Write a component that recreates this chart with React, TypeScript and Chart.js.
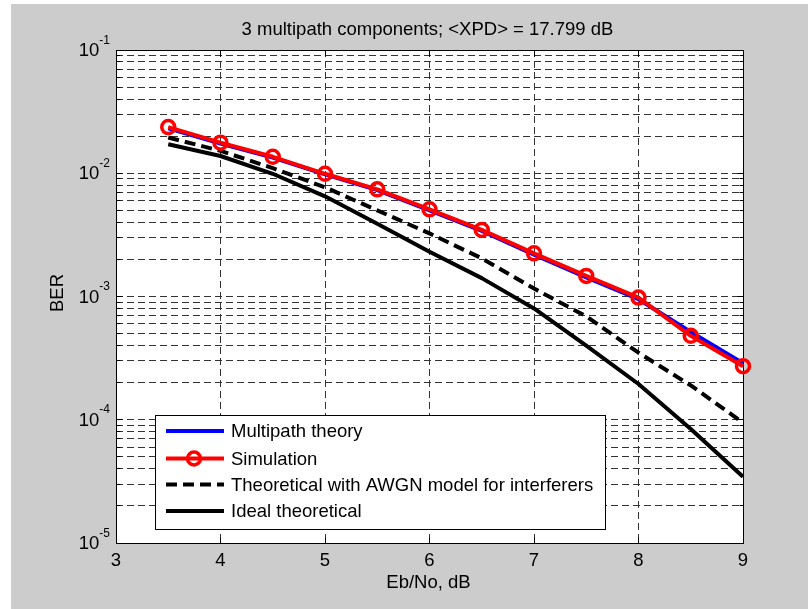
import { useEffect, useRef } from 'react';
import { Chart, registerables } from 'chart.js';

Chart.register(...registerables);

// Eb/No sample points, dB
const ebNo = [3.5, 4, 4.5, 5, 5.5, 6, 6.5, 7, 7.5, 8, 8.5, 9];

// Bit error rates for each curve
const multipathTheory = [0.0231, 0.0174, 0.0134, 0.0098, 0.0073, 0.00500, 0.00340, 0.00218, 0.00143, 0.00095, 0.000515, 0.000288];
const simulation = [0.0237, 0.0177, 0.0136, 0.0099, 0.0074, 0.00510, 0.00347, 0.00224, 0.00147, 0.00098, 0.00048, 0.000272];
const awgnTheory = [0.0195, 0.0152, 0.0110, 0.0077, 0.0050, 0.00325, 0.00204, 0.00116, 0.00069, 0.000350, 0.000190, 0.0000946];
const idealTheory = [0.0172, 0.0138, 0.0099, 0.0065, 0.0039, 0.00231, 0.00141, 0.00080, 0.00040, 0.000195, 0.0000841, 0.0000345];

// Axis ticks
const xTicks = [3, 4, 5, 6, 7, 8, 9];
const yDecades = [-5, -4, -3, -2, -1];

// Texts
const titleText = '3 multipath components; <XPD> = 17.799 dB';
const xLabel = 'Eb/No, dB';
const yLabel = 'BER';
const legendLabels = [
  'Multipath theory',
  'Simulation',
  'Theoretical with AWGN model for interferers',
  'Ideal theoretical',
];

const FONT = '"Liberation Sans", Arial, Helvetica, sans-serif';
const GRID = '#333333';
const DASH = [11, 6];

// Log grid lines at 1..9 x 10^k
const yGrid: number[] = [];
for (let i = 0; i < yDecades.length - 1; i++) {
  for (let m = 1; m <= 9; m++) {
    yGrid.push(Number((m * Math.pow(10, yDecades[i])).toPrecision(3)));
  }
}
yGrid.push(Math.pow(10, yDecades[yDecades.length - 1]));

const toPoints = (vals: number[]) => ebNo.map((x, i) => ({ x, y: vals[i] }));

const frame = {
  id: 'matlabFrame',
  beforeDraw(chart: any) {
    const { ctx, width, height, chartArea: a } = chart;
    ctx.save();
    ctx.fillStyle = '#ffffff';
    ctx.fillRect(0, 0, width, height);
    ctx.fillStyle = '#cccccc';
    ctx.fillRect(11, 4, width - 11, height - 4);
    ctx.fillStyle = '#ffffff';
    ctx.fillRect(a.left, a.top, a.right - a.left, a.bottom - a.top);
    ctx.restore();
  },
  beforeDatasetsDraw(chart: any) {
    const { ctx, chartArea: a, scales } = chart;
    const L = Math.floor(a.left) + 0.5;
    const R = Math.floor(a.right) + 0.5;
    const T = Math.floor(a.top) + 0.5;
    const B = Math.floor(a.bottom) + 0.5;
    ctx.save();
    ctx.strokeStyle = '#000';
    ctx.lineWidth = 1;
    ctx.setLineDash([]);
    ctx.beginPath();
    // inner tick marks on x
    xTicks.forEach((v) => {
      const x = Math.floor(scales.x.getPixelForValue(v)) + 0.5;
      ctx.moveTo(x, B); ctx.lineTo(x, B - 6);
      ctx.moveTo(x, T); ctx.lineTo(x, T + 6);
    });
    // inner tick marks on y
    yGrid.forEach((v) => {
      const y = Math.floor(scales.y.getPixelForValue(v)) + 0.5;
      const major = Math.abs(Math.log10(v) - Math.round(Math.log10(v))) < 1e-6;
      const len = major ? 6 : 4;
      ctx.moveTo(L, y); ctx.lineTo(L + len, y);
      ctx.moveTo(R, y); ctx.lineTo(R - len, y);
    });
    ctx.stroke();
    ctx.strokeRect(L, T, R - L, B - T);
    ctx.restore();
  },
  afterDraw(chart: any) {
    const { ctx, chartArea: a, scales } = chart;
    ctx.save();
    ctx.fillStyle = '#000';

    // title
    ctx.font = `18.5px ${FONT}`;
    ctx.textAlign = 'center';
    ctx.textBaseline = 'alphabetic';
    ctx.fillText(titleText, (a.left + a.right) / 2 - 2, a.top - 15.5);

    // x tick labels
    xTicks.forEach((v) => {
      ctx.fillText(String(v), scales.x.getPixelForValue(v), a.bottom + 23);
    });

    // x label
    ctx.fillText(xLabel, (a.left + a.right) / 2 - 1, a.bottom + 45);

    // y tick labels, 10^k with superscript exponent
    yDecades.forEach((e) => {
      const y = scales.y.getPixelForValue(Math.pow(10, e));
      const exp = String(e);
      ctx.font = `12px ${FONT}`;
      ctx.textAlign = 'right';
      const ew = ctx.measureText(exp).width;
      ctx.fillText(exp, a.left - 6, y - 6.5);
      ctx.font = `18.5px ${FONT}`;
      ctx.fillText('10', a.left - 6 - ew, y + 6);
    });

    // y label
    ctx.save();
    ctx.translate(a.left - 53.5, (a.top + a.bottom) / 2 - 3.5);
    ctx.rotate(-Math.PI / 2);
    ctx.textAlign = 'center';
    ctx.font = `18.5px ${FONT}`;
    ctx.fillText(yLabel, 0, 0);
    ctx.restore();

    // legend
    const lx = a.left + 39;
    const ly = a.bottom - 128;
    const lw = 450;
    const lh = 114;
    ctx.fillStyle = '#ffffff';
    ctx.fillRect(lx, ly, lw, lh);
    ctx.strokeStyle = '#000';
    ctx.lineWidth = 1;
    ctx.strokeRect(Math.floor(lx) + 0.5, Math.floor(ly) + 0.5, lw, lh);

    const ds = chart.data.datasets;
    const rows = [16, 43.5, 69.5, 96];
    legendLabels.forEach((label, i) => {
      const d = ds.find((s: any) => s.label === label);
      const y = ly + rows[i];
      const x0 = lx + 11;
      const x1 = lx + 69;
      ctx.save();
      ctx.strokeStyle = d.borderColor;
      ctx.lineWidth = d.borderWidth;
      ctx.setLineDash(d.borderDash || []);
      ctx.beginPath();
      ctx.moveTo(x0, y);
      ctx.lineTo(x1, y);
      ctx.stroke();
      if (d.pointRadius > 0) {
        ctx.setLineDash([]);
        ctx.lineWidth = d.pointBorderWidth;
        ctx.strokeStyle = d.pointBorderColor;
        ctx.beginPath();
        ctx.arc((x0 + x1) / 2 - 1, y, d.pointRadius, 0, Math.PI * 2);
        ctx.stroke();
      }
      ctx.restore();
      ctx.fillStyle = '#000';
      ctx.font = `18.5px ${FONT}`;
      ctx.textAlign = 'left';
      ctx.textBaseline = 'middle';
      ctx.fillText(label, lx + 76, y + 1);
      ctx.textBaseline = 'alphabetic';
    });

    ctx.restore();
  },
};

export default function App() {
  const ref = useRef<HTMLCanvasElement>(null);

  useEffect(() => {
    document.body.style.margin = '0';
    document.body.style.overflow = 'hidden';
    const canvas = ref.current;
    if (!canvas) return;

    const gridOpts = { color: GRID, lineWidth: 1, drawTicks: false };
    const borderOpts = { display: false, dash: [7, 4] };

    const chart = new Chart(canvas, {
      type: 'line',
      data: {
        datasets: [
          {
            label: 'Simulation',
            data: toPoints(simulation),
            borderColor: '#ff0000',
            borderWidth: 4,
            pointRadius: 6.5,
            pointBorderWidth: 3.5,
            pointBorderColor: '#ff0000',
            pointBackgroundColor: 'rgba(0,0,0,0)',
            order: 0,
            clip: false,
          },
          {
            label: 'Multipath theory',
            data: toPoints(multipathTheory),
            borderColor: '#0000ff',
            borderWidth: 4,
            pointRadius: 0,
            order: 1,
            clip: false,
          },
          {
            label: 'Theoretical with AWGN model for interferers',
            data: toPoints(awgnTheory),
            borderColor: '#000000',
            borderWidth: 4,
            borderDash: DASH,
            pointRadius: 0,
            order: 2,
            clip: false,
          },
          {
            label: 'Ideal theoretical',
            data: toPoints(idealTheory),
            borderColor: '#000000',
            borderWidth: 4,
            pointRadius: 0,
            order: 3,
            clip: false,
          },
        ] as any,
      },
      options: {
        animation: false,
        responsive: false,
        devicePixelRatio: 1,
        layout: { padding: { left: 116, top: 50, right: 65, bottom: 66 } },
        elements: { line: { tension: 0, borderJoinStyle: 'round' } },
        plugins: {
          legend: { display: false },
          title: { display: false },
          tooltip: { enabled: false },
        },
        scales: {
          x: {
            type: 'linear',
            min: 3,
            max: 9,
            ticks: { display: false },
            afterBuildTicks: (s: any) => {
              s.ticks = xTicks.map((v) => ({ value: v }));
            },
            grid: gridOpts,
            border: borderOpts,
          },
          y: {
            type: 'logarithmic',
            min: 1e-5,
            max: 1e-1,
            ticks: { display: false },
            afterBuildTicks: (s: any) => {
              s.ticks = yGrid.map((v) => ({ value: v }));
            },
            grid: gridOpts,
            border: borderOpts,
          },
        },
      } as any,
      plugins: [frame],
    });

    return () => chart.destroy();
  }, []);

  return <canvas ref={ref} width={808} height={609} style={{ display: 'block' }} />;
}
